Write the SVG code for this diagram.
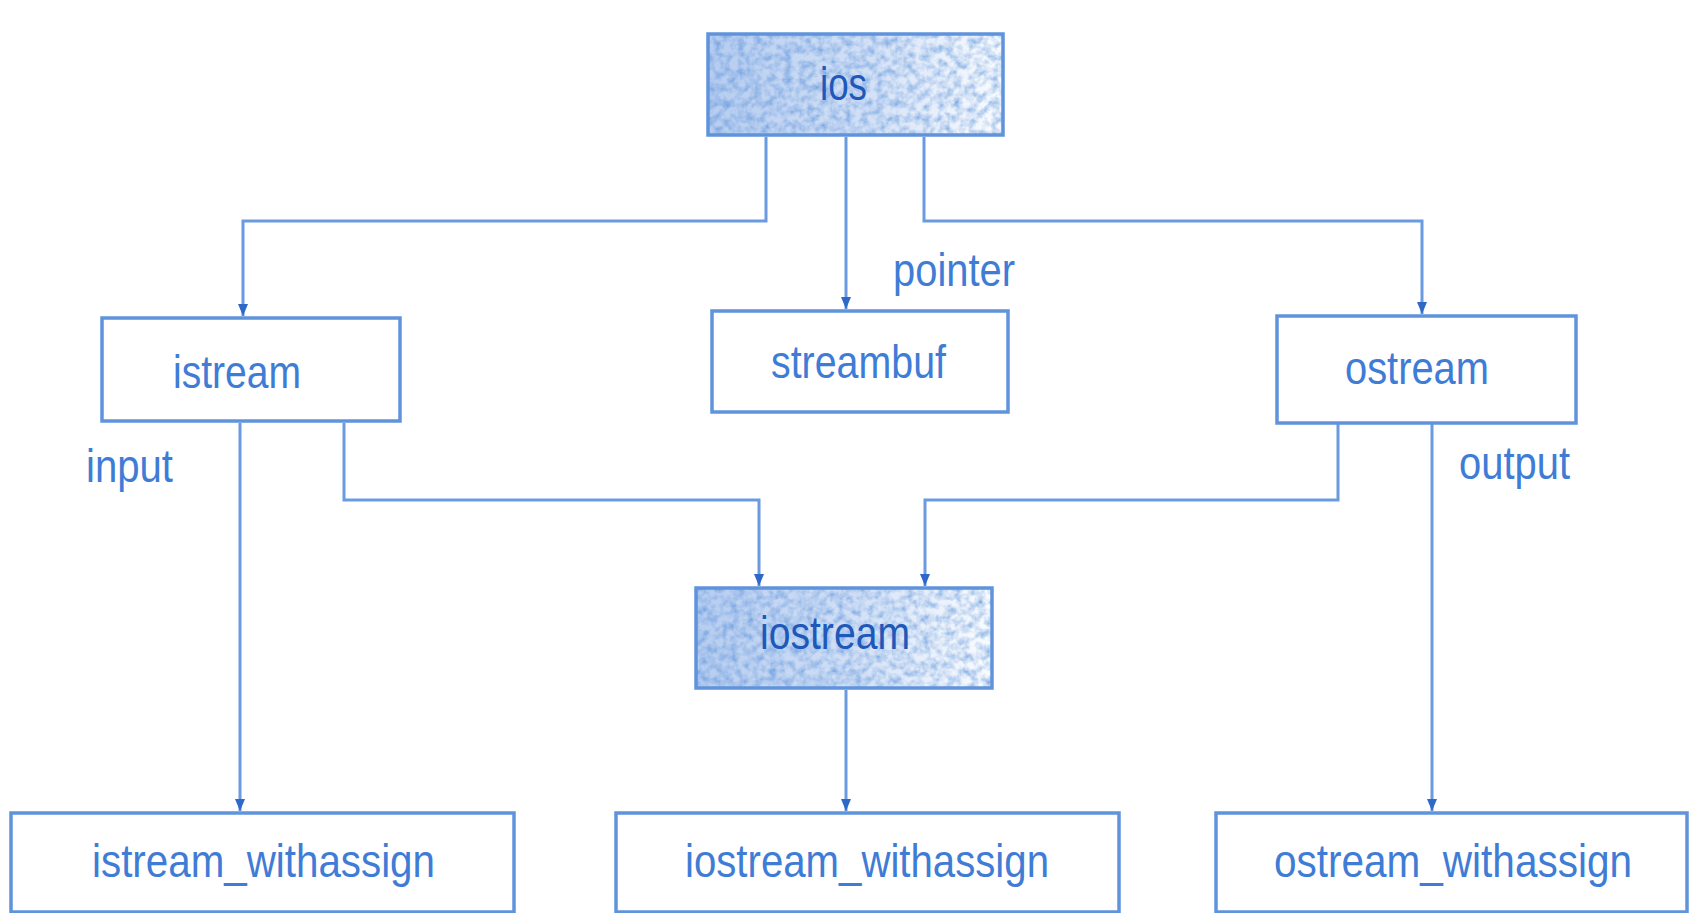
<svg xmlns="http://www.w3.org/2000/svg" width="1694" height="913" viewBox="0 0 1694 913">
  <style>
    .box { fill: #ffffff; stroke: #5f93dc; stroke-width: 3.5; }
    .hbox { fill: none; stroke: #5f93dc; stroke-width: 3.5; }
    .lbl { font-family: "Liberation Sans", Arial, sans-serif; font-size: 47px; fill: #3f7cd6; }
    .dark { fill: #1d58ba; }
    .conn { fill: none; stroke: #6a9be0; stroke-width: 3; }
  </style>
  <defs>
    <marker id="arr" viewBox="0 0 12 10" refX="12" refY="5" markerWidth="12" markerHeight="10" markerUnits="userSpaceOnUse" orient="auto">
      <path d="M0,0 L12,5 L0,10 Z" fill="#2e68c8"/>
    </marker>
    <linearGradient id="shade" x1="0" y1="0" x2="1" y2="0">
      <stop offset="0" stop-color="#5d8fdc" stop-opacity="0.45"/>
      <stop offset="0.55" stop-color="#6d9ae0" stop-opacity="0.3"/>
      <stop offset="1" stop-color="#8fb2ea" stop-opacity="0.05"/>
    </linearGradient>
    <filter id="speckle" x="0" y="0" width="100%" height="100%">
      <feTurbulence type="fractalNoise" baseFrequency="0.13" numOctaves="3" seed="11" result="n"/>
      <feColorMatrix in="n" type="matrix" values="1.4 0 0 0 0.05  1.0 0 0 0 0.33  0.4 0 0 0 0.74  0 0 0 0 1" result="c"/>
      <feComposite in="c" in2="SourceGraphic" operator="in"/>
    </filter>
  </defs>
  <rect x="0" y="0" width="1694" height="913" fill="#ffffff"/>

  <g id="connectors">
    <path class="conn" d="M766,137 V221 H243 V316" marker-end="url(#arr)"/>
    <path class="conn" d="M846,137 V309" marker-end="url(#arr)"/>
    <path class="conn" d="M924,137 V221 H1422 V314" marker-end="url(#arr)"/>
    <path class="conn" d="M240,423 V811" marker-end="url(#arr)"/>
    <path class="conn" d="M344,423 V500 H759 V586" marker-end="url(#arr)"/>
    <path class="conn" d="M1338,424 V500 H925 V586" marker-end="url(#arr)"/>
    <path class="conn" d="M1432,424 V811" marker-end="url(#arr)"/>
    <path class="conn" d="M846,690 V811" marker-end="url(#arr)"/>
  </g>

  <g id="ios">
    <rect x="708" y="34" width="295" height="101" fill="#000" filter="url(#speckle)"/>
    <rect x="708" y="34" width="295" height="101" fill="url(#shade)"/>
    <rect x="708" y="34" width="295" height="101" class="hbox"/>
    <text class="lbl dark" x="820" y="100" textLength="47" lengthAdjust="spacingAndGlyphs">ios</text>
  </g>

  <g id="istream">
    <rect class="box" x="102" y="318" width="298" height="103"/>
    <text class="lbl" x="173" y="388" textLength="128" lengthAdjust="spacingAndGlyphs">istream</text>
  </g>

  <g id="streambuf">
    <rect class="box" x="712" y="311" width="296" height="101"/>
    <text class="lbl" x="771" y="378" textLength="175" lengthAdjust="spacingAndGlyphs">streambuf</text>
  </g>

  <g id="ostream">
    <rect class="box" x="1277" y="316" width="299" height="107"/>
    <text class="lbl" x="1345" y="384" textLength="144" lengthAdjust="spacingAndGlyphs">ostream</text>
  </g>

  <g id="iostream">
    <rect x="696" y="588" width="296" height="100" fill="#000" filter="url(#speckle)"/>
    <rect x="696" y="588" width="296" height="100" fill="url(#shade)"/>
    <rect x="696" y="588" width="296" height="100" class="hbox"/>
    <text class="lbl dark" x="760" y="649" textLength="150" lengthAdjust="spacingAndGlyphs">iostream</text>
  </g>

  <g id="istream_withassign">
    <rect class="box" x="11" y="813" width="503" height="99"/>
    <text class="lbl" x="92" y="877" textLength="343" lengthAdjust="spacingAndGlyphs">istream_withassign</text>
  </g>

  <g id="iostream_withassign">
    <rect class="box" x="616" y="813" width="503" height="99"/>
    <text class="lbl" x="685" y="877" textLength="364" lengthAdjust="spacingAndGlyphs">iostream_withassign</text>
  </g>

  <g id="ostream_withassign">
    <rect class="box" x="1216" y="813" width="471" height="99"/>
    <text class="lbl" x="1274" y="877" textLength="358" lengthAdjust="spacingAndGlyphs">ostream_withassign</text>
  </g>

  <g id="labels">
    <text class="lbl" x="893" y="286" textLength="122" lengthAdjust="spacingAndGlyphs">pointer</text>
    <text class="lbl" x="86" y="482" textLength="87" lengthAdjust="spacingAndGlyphs">input</text>
    <text class="lbl" x="1459" y="479" textLength="111" lengthAdjust="spacingAndGlyphs">output</text>
  </g>
</svg>
